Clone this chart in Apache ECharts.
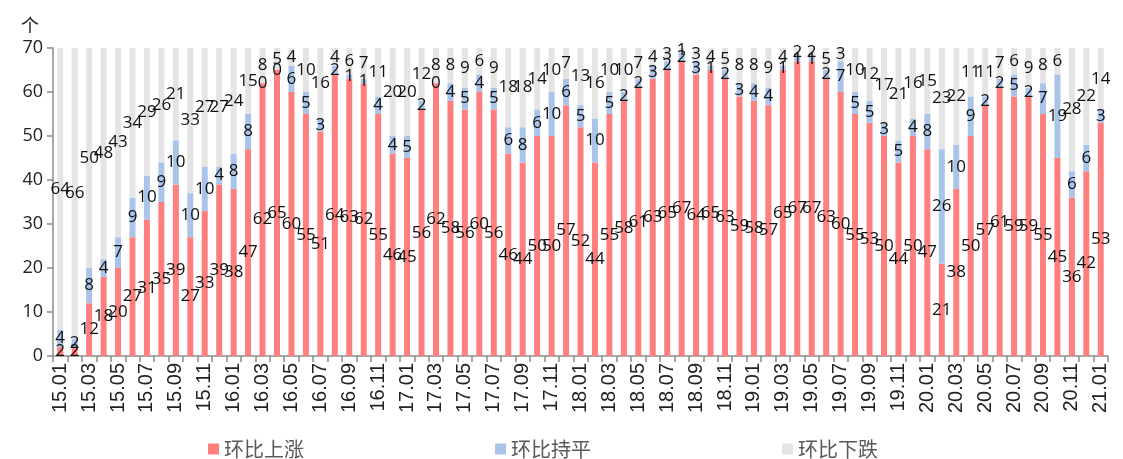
<!DOCTYPE html>
<html>
<head>
<meta charset="utf-8">
<script src="https://cdn.jsdelivr.net/npm/echarts@6/dist/echarts.min.js"></script>
<style>
  html, body { margin: 0; padding: 0; background: #fff; }
  #chart { width: 1123px; height: 459px; }
</style>
</head>
<body>
<div id="chart"></div>
<script>
// 70 cities: number with month-on-month rise / flat / fall, 2015.01 – 2021.01
const months = [
  '15.01','15.02','15.03','15.04','15.05','15.06','15.07','15.08','15.09','15.10','15.11','15.12',
  '16.01','16.02','16.03','16.04','16.05','16.06','16.07','16.08','16.09','16.10','16.11','16.12',
  '17.01','17.02','17.03','17.04','17.05','17.06','17.07','17.08','17.09','17.10','17.11','17.12',
  '18.01','18.02','18.03','18.04','18.05','18.06','18.07','18.08','18.09','18.10','18.11','18.12',
  '19.01','19.02','19.03','19.04','19.05','19.06','19.07','19.08','19.09','19.10','19.11','19.12',
  '20.01','20.02','20.03','20.04','20.05','20.06','20.07','20.08','20.09','20.10','20.11','20.12',
  '21.01'
];
const rising = [
  2, 2, 12, 18, 20, 27, 31, 35, 39, 27, 33, 39,
  38, 47, 62, 65, 60, 55, 51, 64, 63, 62, 55, 46,
  45, 56, 62, 58, 56, 60, 56, 46, 44, 50, 50, 57,
  52, 44, 55, 58, 61, 63, 65, 67, 64, 65, 63, 59,
  58, 57, 65, 67, 67, 63, 60, 55, 53, 50, 44, 50,
  47, 21, 38, 50, 57, 61, 59, 59, 55, 45, 36, 42,
  53
];
const flat = [
  4, 2, 8, 4, 7, 9, 10, 9, 10, 10, 10, 4,
  8, 8, 0, 0, 6, 5, 3, 2, 1, 1, 4, 4,
  5, 2, 0, 4, 5, 4, 5, 6, 8, 6, 10, 6,
  5, 10, 5, 2, 2, 3, 2, 2, 3, 1, 2, 3,
  4, 4, 1, 1, 1, 2, 7, 5, 5, 3, 5, 4,
  8, 26, 10, 9, 2, 2, 5, 2, 7, 19, 6, 6,
  3
];
const falling = [
  64, 66, 50, 48, 43, 34, 29, 26, 21, 33, 27, 27,
  24, 15, 8, 5, 4, 10, 16, 4, 6, 7, 11, 20,
  20, 12, 8, 8, 9, 6, 9, 18, 18, 14, 10, 7,
  13, 16, 10, 10, 7, 4, 3, 1, 3, 4, 5, 8,
  8, 9, 4, 2, 2, 5, 3, 10, 12, 17, 21, 16,
  15, 23, 22, 11, 11, 7, 6, 9, 8, 6, 28, 22,
  14
];
const yTicks = { min: 0, max: 70, step: 10 };

const labelFont = "'Open Sans', 'Noto Sans', sans-serif";
const cjkFont = "'Noto Sans CJK SC', sans-serif";

function segment(name, data, color) {
  return {
    name: name,
    type: 'bar',
    stack: 'total',
    data: data,
    barWidth: 6,
    itemStyle: { color: color },
    label: {
      show: true,
      position: 'inside',
      color: '#111',
      fontSize: 17,
      fontFamily: labelFont
    },
    emphasis: { disabled: true }
  };
}

const chart = echarts.init(document.getElementById('chart'), null, { renderer: 'canvas' });
chart.setOption({
  animation: false,
  backgroundColor: '#fff',
  grid: { left: 53, right: 15, top: 48, bottom: 103, containLabel: false },
  legend: {
    left: 208,
    top: 438,
    padding: 0,
    itemGap: 191,
    itemWidth: 11,
    itemHeight: 11,
    icon: 'rect',
    textStyle: { fontSize: 20, color: '#595959', fontFamily: cjkFont, lineHeight: 22 },
    data: ['环比上涨', '环比持平', '环比下跌']
  },
  xAxis: {
    type: 'category',
    data: months,
    boundaryGap: true,
    axisLine: { lineStyle: { color: '#8c8c8c', width: 1.5 } },
    axisTick: { show: true, interval: 0, length: 6, lineStyle: { color: '#8c8c8c', width: 1.5 } },
    axisLabel: {
      interval: 1,
      rotate: 90,
      margin: 7,
      fontSize: 20,
      color: '#222',
      fontFamily: "'Liberation Sans', Arial, sans-serif"
    },
    splitLine: { show: false }
  },
  yAxis: {
    type: 'value',
    name: '个',
    nameLocation: 'end',
    nameGap: 14,
    nameTextStyle: { fontSize: 18, color: '#222', fontFamily: cjkFont, align: 'right', padding: [0, 14, 0, 0] },
    min: yTicks.min,
    max: yTicks.max,
    interval: yTicks.step,
    axisLine: { show: true, lineStyle: { color: '#8c8c8c', width: 1.5 } },
    axisTick: { show: true, length: 6, lineStyle: { color: '#8c8c8c', width: 1.5 } },
    axisLabel: { fontSize: 18, color: '#222', margin: 10, fontFamily: labelFont },
    splitLine: { show: false }
  },
  series: [
    segment('环比上涨', rising, '#ff7f7f'),
    segment('环比持平', flat, '#a9c4e8'),
    segment('环比下跌', falling, '#e4e4e4')
  ]
});
</script>
</body>
</html>
